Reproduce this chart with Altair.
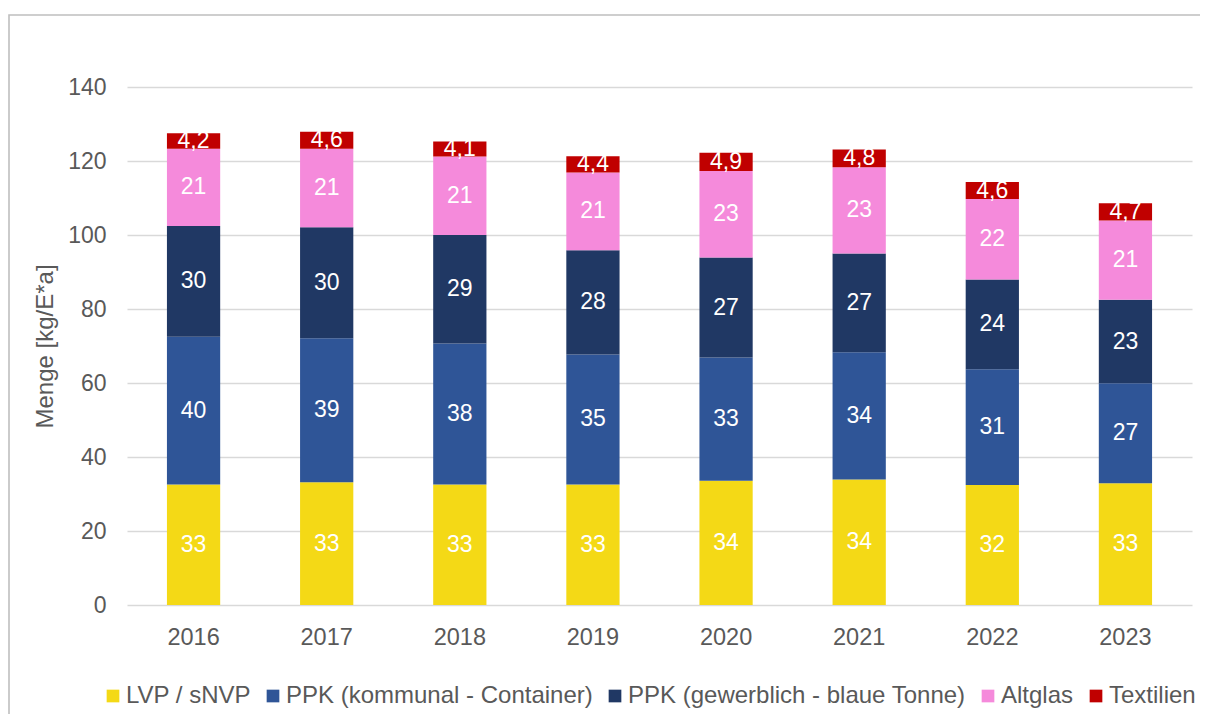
import altair as alt
import pandas as pd

years = ["2016", "2017", "2018", "2019", "2020", "2021", "2022", "2023"]
series = [
    "LVP / sNVP",
    "PPK (kommunal - Container)",
    "PPK (gewerblich - blaue Tonne)",
    "Altglas",
    "Textilien",
]
colors = ["#F4D916", "#2F5597", "#203864", "#F58ADB", "#C00000"]

lvp = [32.6, 33.2, 32.6, 32.6, 33.6, 33.9, 32.4, 32.9]
ppk_kommunal = [39.9, 38.9, 38.1, 35.1, 33.3, 34.4, 31.3, 27.0]
ppk_gewerblich = [29.9, 30.0, 29.3, 28.2, 27.0, 26.7, 24.3, 22.6]
altglas = [20.9, 21.2, 21.2, 21.0, 23.4, 23.3, 21.7, 21.4]
textilien = [4.2, 4.6, 4.1, 4.4, 4.9, 4.8, 4.6, 4.7]

y_ticks = [0, 20, 40, 60, 80, 100, 120, 140]

rows = []
for si, (name, vals) in enumerate(
    zip(series, [lvp, ppk_kommunal, ppk_gewerblich, altglas, textilien])
):
    for yr, v in zip(years, vals):
        if name == "Textilien":
            label = f"{v:.1f}".replace(".", ",")
        else:
            label = f"{v:.0f}"
        rows.append({"year": yr, "series": name, "idx": si, "value": v, "label": label})
df = pd.DataFrame(rows)

FONT = "Liberation Sans"
GRAY = "#595959"

base = (
    alt.Chart(df)
    .transform_stack(
        stack="value",
        groupby=["year"],
        sort=[alt.SortField("idx", order="ascending")],
        as_=["y0", "y1"],
    )
    .transform_calculate(mid="(datum.y0 + datum.y1) / 2")
)

x_enc = alt.X(
    "year:N",
    sort=years,
    scale=alt.Scale(paddingInner=0.6, paddingOuter=0.3),
    axis=alt.Axis(
        title=None,
        labelFontSize=23.5,
        labelColor=GRAY,
        labelFont=FONT,
        domain=False,
        ticks=False,
        tickSize=0,
        labelPadding=20,
        labelAngle=0,
    ),
)
yscale = alt.Scale(domain=[0, 140], nice=False)

bars = base.mark_bar().encode(
    x=x_enc,
    y=alt.Y(
        "y0:Q",
        scale=yscale,
        stack=None,
        axis=alt.Axis(
            title="Menge [kg/E*a]",
            values=y_ticks,
            grid=True,
            gridColor="#d9d9d9",
            gridWidth=1.3,
            domain=False,
            ticks=False,
            tickSize=0,
            labelPadding=21,
            labelFontSize=23,
            labelColor=GRAY,
            labelFont=FONT,
            titleFont=FONT,
            titleFontSize=24,
            titleFontWeight="normal",
            titleColor=GRAY,
            titlePadding=10,
        ),
    ),
    y2="y1:Q",
    color=alt.Color(
        "series:N",
        scale=alt.Scale(domain=series, range=colors),
        legend=alt.Legend(
            title=None,
            orient="none",
            legendX=-26,
            legendY=597,
            direction="horizontal",
            symbolType="square",
            symbolSize=161,
            symbolStrokeWidth=0,
            labelFontSize=24,
            labelColor=GRAY,
            labelFont=FONT,
            labelLimit=1000,
            columnPadding=10,
            labelOffset=1,
            padding=0,
        ),
    ),
)

labels = base.mark_text(
    color="white", fontSize=23, font=FONT, baseline="middle", align="center"
).encode(
    x=alt.X("year:N", sort=years),
    y=alt.Y("mid:Q", scale=yscale, stack=None),
    text="label:N",
)

border = (
    alt.Chart(pd.DataFrame({"a": [0]}))
    .mark_rect(fillOpacity=0, stroke="#bfbfbf", strokeWidth=1.6)
    .encode(
        x=alt.value(-118),
        x2=alt.value(1200),
        y=alt.value(-72),
        y2=alt.value(700),
    )
)

chart = (
    alt.layer(border, bars, labels)
    .properties(
        width=1065,
        height=518,
        autosize=alt.AutoSizeParams(type="none"),
        padding={"left": 119, "top": 79, "right": 8, "bottom": 109},
        background="white",
    )
    .configure_view(stroke=None)
)

chart.save("out.html", embed_options={"renderer": "svg", "actions": False})
